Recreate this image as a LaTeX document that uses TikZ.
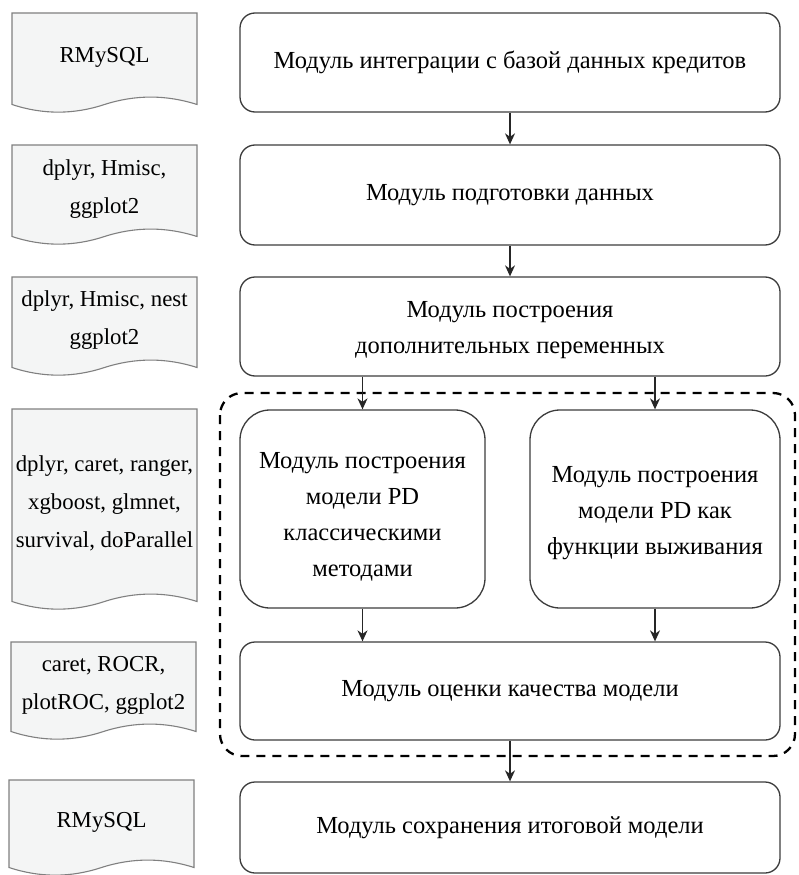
\documentclass[tikz,border=0pt]{standalone}
\usepackage{fontspec}
\setmainfont{Liberation Serif}
\newfontfamily\tnr{Liberation Serif}
\usetikzlibrary{arrows.meta}
\definecolor{boxline}{HTML}{3C3C3C}
\definecolor{docline}{HTML}{808080}
\definecolor{docfill}{HTML}{F4F5F5}
\tikzset{
  mainbox/.style={draw=boxline, line width=1.3pt, fill=white, rounded corners=15pt,
    minimum width=540pt, minimum height=#1, inner sep=0pt, align=center,
    font=\tnr\fontsize{24.5pt}{36pt}\selectfont},
  subbox/.style={draw=boxline, line width=1.3pt, fill=white, rounded corners=30pt,
    minimum width=#1, minimum height=198pt, inner sep=0pt, align=center,
    font=\tnr\fontsize{24.5pt}{36pt}\selectfont},
  doctext/.style={inner sep=0pt, align=center, font=\tnr\fontsize{22.8pt}{38pt}\selectfont},
  docpath/.style={draw=docline, fill=docfill, line width=1.1pt},
  flow/.style={draw=black!85, line width=1.3pt, -{Stealth[length=11pt,width=10pt,inset=3.5pt]}},
  group/.style={draw=black, line width=2.3pt, dash pattern=on 9pt off 7pt, rounded corners=22pt}
}
% #1 name, #2 x, #3 y, #4 width, #5 height, #6 text
\newcommand\docshape[6]{%
  \begin{scope}[shift={(#2,#3)}]
    \draw[docpath] (0,0) -- (#4,0) -- (#4,{#5-8.5})
      .. controls ({#4*0.8333},{#5-18.4}) and ({#4*0.6667},{#5-18.4}) .. ({#4*0.5},{#5-8.5})
      .. controls ({#4*0.3333},{#5+1.7}) and ({#4*0.1667},{#5+1.7}) .. (0,{#5-8.5}) -- cycle;
    \node[doctext] (#1) at ({#4*0.5},{(#5-12)*0.5}) {#6};
  \end{scope}}
\begin{document}
\begin{tikzpicture}[x=1pt,y=-1pt]
\useasboundingbox[fill=white] (0,0) rectangle (798,875);

% dashed group
\draw[group] (220,393) rectangle (795,756);

% main boxes
\node[mainbox=99pt] (b1) at (510,62.5) {Модуль интеграции с базой данных кредитов};
\node[mainbox=100pt] (b2) at (510,195) {Модуль подготовки данных};
\node[mainbox=99pt] (b3) at (510,326.5) {\rule{0pt}{23pt}Модуль построения\\дополнительных переменных};
\node[subbox=245pt] (b4a) at (362.5,509) {\rule{0pt}{32pt}Модуль построения\\модели PD\\классическими\\методами};
\node[subbox=250pt] (b4b) at (655,509) {\rule{0pt}{25pt}Модуль построения\\модели PD как\\функции выживания};
\node[mainbox=98pt] (b5) at (510,691) {Модуль оценки качества модели};
\node[mainbox=91pt] (b6) at (510,827.5) {Модуль сохранения итоговой модели};

% documents
\docshape{d1}{12}{13}{185}{100}{RMySQL}
\docshape{d2}{12}{145}{185}{100}{dplyr, Hmisc,\\ggplot2}
\docshape{d3}{12}{277}{185}{99}{dplyr, Hmisc, nest\\ggplot2}
\docshape{d4}{12}{409}{185}{201}{dplyr, caret, ranger,\\xgboost, glmnet,\\survival, doParallel}
\docshape{d5}{11}{642}{185}{98}{caret, ROCR,\\plotROC, ggplot2}
\docshape{d6}{9}{780}{185}{96}{RMySQL}

% connectors
\draw[flow] (b1.south) -- (b2.north);
\draw[flow] (b2.south) -- (b3.north);
\draw[flow] (b3.south -| b4a.north) -- (b4a.north);
\draw[flow] (b3.south -| b4b.north) -- (b4b.north);
\draw[flow] (b4a.south) -- (b4a.south |- b5.north);
\draw[flow] (b4b.south) -- (b4b.south |- b5.north);
\draw[flow] (b5.south) -- (b6.north);
\end{tikzpicture}
\end{document}
